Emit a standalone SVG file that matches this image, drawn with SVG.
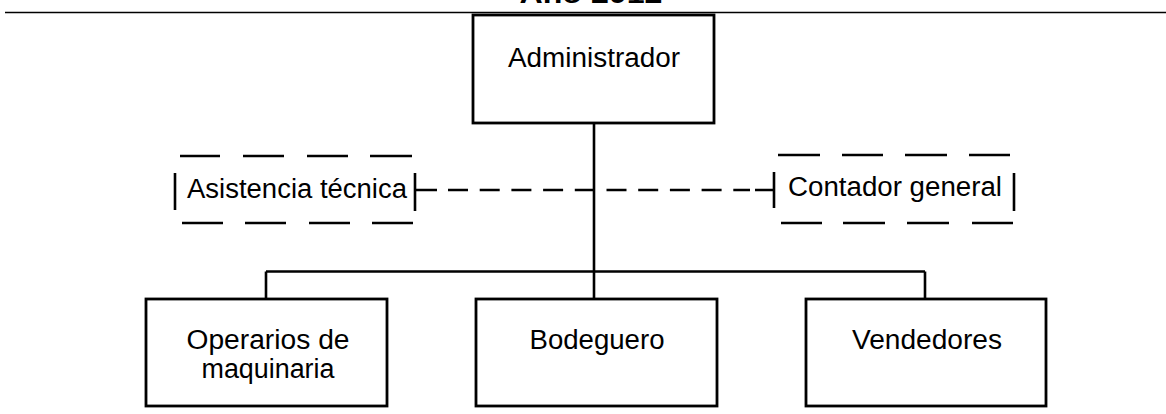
<svg xmlns="http://www.w3.org/2000/svg" width="1166" height="414" viewBox="0 0 1166 414">
<style>
.box{fill:#fff;stroke:#000;stroke-width:2.8}
.ln{fill:none;stroke:#000;stroke-width:2.6}
.t{font-family:"Liberation Sans",Arial,sans-serif;font-size:27px;fill:#000;text-anchor:middle}
.ttl{font-family:"Liberation Sans",Arial,sans-serif;font-size:28px;font-weight:bold;fill:#000;text-anchor:middle}
</style>
<rect width="1166" height="414" fill="#fff"/>
<g id="title">
<text class="ttl" x="591" y="3" textLength="143" lengthAdjust="spacingAndGlyphs">Año 2012</text>
<line x1="5" y1="12.5" x2="1166" y2="12.5" stroke="#000" stroke-width="1.6"/>
</g>
<g id="connectors">
<path class="ln" d="M594 123 V299 M266 271.5 H925 M266 271.5 V299 M925 271.5 V299"/>
<path class="ln" d="M415 190 H437 M774 190 H755"/>
<line class="ln" x1="448" y1="190" x2="750" y2="190" stroke-dasharray="20 11.7"/>
</g>
<g id="administrador">
<rect class="box" x="473" y="15" width="241" height="108"/>
<text class="t" x="594" y="67" textLength="172" lengthAdjust="spacingAndGlyphs">Administrador</text>
</g>
<g id="asistencia">
<path class="ln" d="M180 156 H220 M243 156 H284 M307 156 H348 M370 156 H412 M182 223 H223 M245 223 H286 M309 223 H350 M372 223 H413 M175 173 V210 M415 173 V211"/>
<text class="t" x="297" y="198" textLength="220" lengthAdjust="spacingAndGlyphs">Asistencia técnica</text>
</g>
<g id="contador">
<path class="ln" d="M778 155 H820 M842 155 H883 M905 155 H947 M969 155 H1010 M781 223 H822 M843 223 H885 M907 223 H949 M972 223 H1013 M774 172 V208 M1014 173 V211"/>
<text class="t" x="895" y="196" textLength="214" lengthAdjust="spacingAndGlyphs">Contador general</text>
</g>
<g id="operarios">
<rect class="box" x="146" y="299" width="241" height="107"/>
<text class="t" x="268" y="349" textLength="163" lengthAdjust="spacingAndGlyphs">Operarios de</text>
<text class="t" x="268" y="378" textLength="133" lengthAdjust="spacingAndGlyphs">maquinaria</text>
</g>
<g id="bodeguero">
<rect class="box" x="476" y="299" width="241" height="107"/>
<text class="t" x="597" y="349" textLength="135" lengthAdjust="spacingAndGlyphs">Bodeguero</text>
</g>
<g id="vendedores">
<rect class="box" x="806" y="299" width="240" height="107"/>
<text class="t" x="927" y="349" textLength="150" lengthAdjust="spacingAndGlyphs">Vendedores</text>
</g>
</svg>
